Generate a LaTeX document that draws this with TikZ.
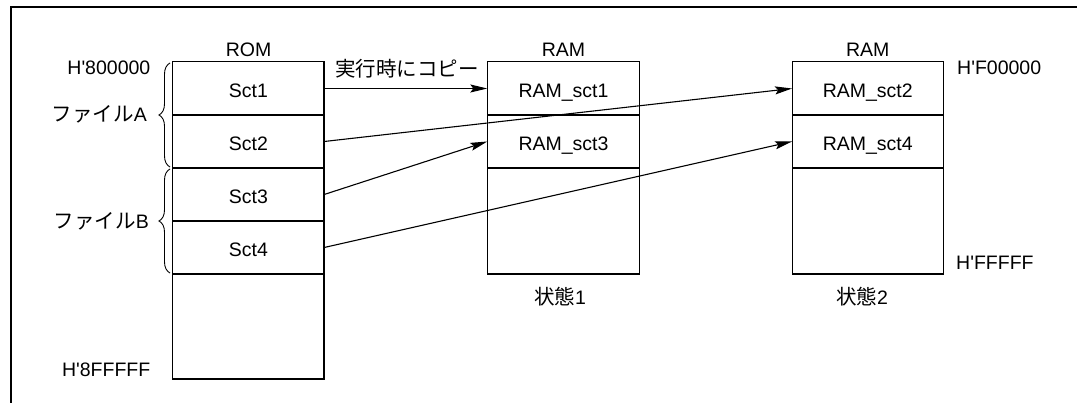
\documentclass[tikz,border=0pt]{standalone}
\usepackage{fontspec}
\setmainfont{Liberation Sans}
\newfontfamily\cjkfont{Noto Sans CJK JP}
\newcommand{\jp}[1]{{\fontsize{20.5}{23}\cjkfont #1}}
\usetikzlibrary{arrows.meta,decorations.pathreplacing}
\begin{document}
\begin{tikzpicture}[x=1pt,y=-1pt,
  font=\fontsize{19.5}{23}\selectfont,
  cell/.style={minimum width=151pt, minimum height=53pt, inner sep=0pt, text height=18pt, text depth=0pt},
  boxline/.style={line width=1.1pt},
  divline/.style={line width=1.8pt},
  arr/.style={line width=1.1pt, -{Stealth[length=17pt, width=8pt, inset=3pt]}},
  bracestyle/.style={line width=0.9pt, decorate, decoration={brace, amplitude=11pt}},
  lbl/.style={inner sep=0pt}
]
\useasboundingbox (0,0) rectangle (1077,403);
% frame
\draw[line width=1.2pt] (11,403) -- (11,7) -- (1077,7);

% ROM
\node[cell] (s1) at (248.5,88.5) {Sct1};
\node[cell] (s2) at (248.5,141.5) {Sct2};
\node[cell] (s3) at (248.5,194.5) {Sct3};
\node[cell] (s4) at (248.5,247.5) {Sct4};
\coordinate (romb) at (324,379);
\draw[boxline] (s1.north west) rectangle (romb);
\foreach \n in {s1,s2,s3,s4} \draw[divline] (\n.south west) -- (\n.south east);

% RAM 1
\node[cell, minimum width=152pt] (r1) at (563.5,88.5) {RAM\_sct1};
\node[cell, minimum width=152pt] (r3) at (563.5,141.5) {RAM\_sct3};
\coordinate (ram1b) at (639.5,274);
\draw[boxline] (r1.north west) rectangle (ram1b);
\foreach \n in {r1,r3} \draw[divline] (\n.south west) -- (\n.south east);

% RAM 2
\node[cell] (r2) at (867.75,88.5) {RAM\_sct2};
\node[cell] (r4) at (867.75,141.5) {RAM\_sct4};
\coordinate (ram2b) at (943.25,274);
\draw[boxline] (r2.north west) rectangle (ram2b);
\foreach \n in {r2,r4} \draw[divline] (\n.south west) -- (\n.south east);

% titles
\node[lbl, anchor=base] (romt) at (248.5,57) {ROM};
\node[lbl, anchor=base] (ram1t) at (563.5,57) {RAM};
\node[lbl, anchor=base] (ram2t) at (867.75,57) {RAM};

% addresses
\node[lbl, anchor=base east] (a1) at (150.5,75) {H\textquotesingle 800000};
\node[lbl, anchor=base east] (a2) at (150.5,376.5) {H\textquotesingle 8FFFFF};
\node[lbl, anchor=base west] (a3) at (957,75) {H\textquotesingle F00000};
\node[lbl, anchor=base west] (a4) at (956,270) {H\textquotesingle FFFFF};

% file labels and braces
\draw[bracestyle] (170,167) -- (170,63);
\draw[bracestyle] (170,273) -- (170,169);
\node[lbl, anchor=base east] (fa) at (147,122) {\jp{ファイル}A};
\node[lbl, anchor=base east] (fb) at (149,229) {\jp{ファイル}B};

% states
\node[lbl, anchor=base] (st1) at (560,305) {\jp{状態}1};
\node[lbl, anchor=base] (st2) at (862,305) {\jp{状態}2};

% arrows
\node[lbl, anchor=base west] (copy) at (335,77) {\jp{実行時にコピー}};
\draw[arr] (s1.east) -- (r1.west);
\draw[arr] (s2.east) -- (r2.west);
\draw[arr] (s3.east) -- (r3.west);
\draw[arr] (s4.east) -- (r4.west);
\end{tikzpicture}
\end{document}
